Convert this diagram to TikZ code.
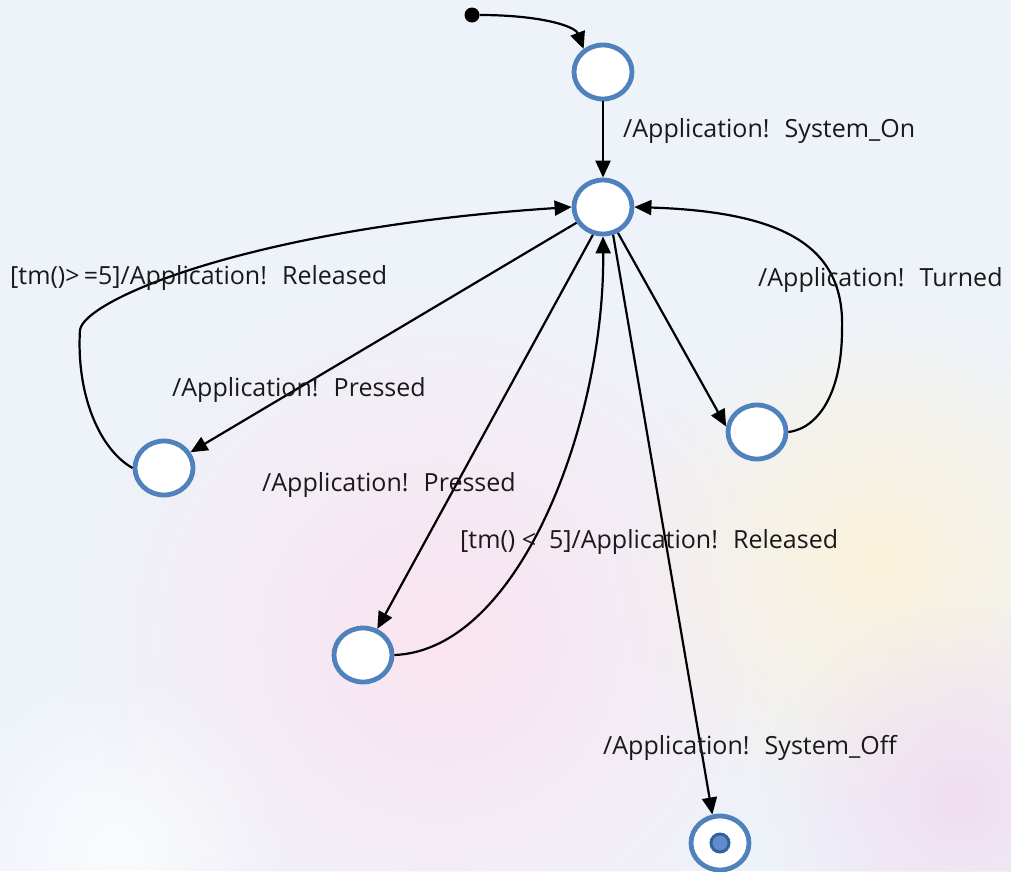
\documentclass[tikz,border=0pt]{standalone}
\usepackage{fontspec}
\setmainfont{Open Sans}
\usetikzlibrary{arrows.meta,shapes.geometric,fadings}
\definecolor{stblue}{RGB}{79,129,189}
\definecolor{stdark}{RGB}{52,96,158}
\definecolor{stlight}{RGB}{96,140,204}
\definecolor{bgbase}{RGB}{238,243,250}
\definecolor{bgpink}{RGB}{250,228,240}
\definecolor{bgyell}{RGB}{252,242,218}
\definecolor{bglila}{RGB}{240,222,240}
\tikzfading[name=blob,inner color=transparent!0,outer color=transparent!100]

\begin{document}
\begin{tikzpicture}[x=1pt,y=-1pt,
  state/.style={ellipse,draw=stblue,line width=4.8pt,fill=white,minimum width=58pt,minimum height=54pt,inner sep=0pt},
  trans/.style={line width=2.2pt,-{Triangle[length=17pt,width=15pt]}},
  lbl/.style={anchor=west,inner sep=0pt,text=black!90,font=\fontsize{25}{30}\selectfont}]
  \useasboundingbox (0,0) rectangle (1011,871);
  % background
  \fill[bgbase] (0,0) rectangle (1011,871);
  \fill[bgpink,path fading=blob] (440,640) circle (380);
  \fill[bgyell,path fading=blob] (880,560) circle (260);
  \fill[bglila,path fading=blob] (960,800) circle (200);
  \fill[white,path fading=blob,opacity=.7] (120,850) circle (180);

  % states
  \node[circle,fill=black,minimum size=15pt,inner sep=0pt] (init) at (472,15) {};
  \node[state] (s0) at (603,72) {};
  \node[state] (s1) at (603,207) {};
  \node[state] (s2) at (164,468) {};
  \node[state] (s3) at (757,432) {};
  \node[state] (s4) at (363,655) {};
  \node[state] (fin) at (720,843) {};
  \node[circle,draw=stdark,fill=stlight,line width=3pt,minimum size=18pt,inner sep=0pt] (fdot) at (fin) {};

  % transitions
  \draw[trans] (init) .. controls (540,15) and (575,26) .. (s0.130);
  \draw[trans] (s0) -- (s1);
  \draw[trans] (s1) -- (s2);
  \draw[trans] (s1.250) -- (s4);
  \draw[trans] (s1.300) -- (s3.170);
  \draw[trans] (s1.290) -- (fin.105);
  \draw[trans] (s2.west) .. controls (100,450) and (76,395) .. (80,330) .. controls (84,300) and (250,228) .. (s1.west);
  \draw[trans] (s4.east) .. controls (520,650) and (605,420) .. (s1.south);
  \draw[trans] (s3.east) .. controls (820,428) and (842,390) .. (842,330) .. controls (845,250) and (790,212) .. (s1.east);

  % labels
  \node[lbl] (l0) at (623,131) {/Application!~ System\_On};
  \node[lbl] (l1) at (10,278) {[tm()>\,=5]/Application!~ Released};
  \node[lbl] (l2) at (758,280) {/Application!~ Turned};
  \node[lbl] (l3) at (172,390) {/Application!~ Pressed};
  \node[lbl] (l4) at (262,485) {/Application!~ Pressed};
  \node[lbl] (l5) at (460,542) {[tm() <~ 5]/Application!~ Released};
  \node[lbl] (l6) at (603,748) {/Application!~ System\_Off};
\end{tikzpicture}
\end{document}
